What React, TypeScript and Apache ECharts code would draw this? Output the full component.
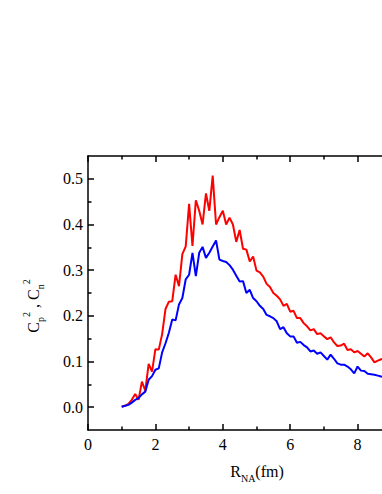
import React, { useEffect, useRef } from 'react';
import * as echarts from 'echarts';

const xValues = [
  1.0, 1.1, 1.2, 1.3, 1.4, 1.5, 1.6, 1.7, 1.8, 1.9,
  2.0, 2.1, 2.2, 2.3, 2.4, 2.5, 2.6, 2.7, 2.8, 2.9,
  3.0, 3.1, 3.2, 3.3, 3.4, 3.5, 3.6, 3.7, 3.8, 3.9,
  4.0, 4.1, 4.2, 4.3, 4.4, 4.5, 4.6, 4.7, 4.8, 4.9,
  5.0, 5.1, 5.2, 5.3, 5.4, 5.5, 5.6, 5.7, 5.8, 5.9,
  6.0, 6.1, 6.2, 6.3, 6.4, 6.5, 6.6, 6.7, 6.8, 6.9,
  7.0, 7.1, 7.2, 7.3, 7.4, 7.5, 7.6, 7.7, 7.8, 7.9,
  8.0, 8.1, 8.2, 8.3, 8.4, 8.5, 8.6, 8.7, 8.8,
];

const cpValues = [
  0.001, 0.003, 0.007, 0.016, 0.029, 0.016, 0.056, 0.036, 0.095, 0.078,
  0.127, 0.126, 0.160, 0.215, 0.231, 0.232, 0.290, 0.265, 0.335, 0.352,
  0.445, 0.353, 0.453, 0.430, 0.400, 0.468, 0.430, 0.507, 0.400, 0.416,
  0.430, 0.400, 0.415, 0.400, 0.362, 0.388, 0.347, 0.345, 0.319, 0.330,
  0.299, 0.295, 0.286, 0.270, 0.263, 0.250, 0.244, 0.236, 0.222, 0.226,
  0.209, 0.211, 0.195, 0.195, 0.184, 0.177, 0.168, 0.171, 0.160, 0.162,
  0.155, 0.149, 0.153, 0.142, 0.134, 0.135, 0.139, 0.125, 0.127, 0.120,
  0.123, 0.117, 0.111, 0.118, 0.109, 0.098, 0.102, 0.105, 0.107,
];

const cnValues = [
  0.001, 0.003, 0.005, 0.010, 0.016, 0.020, 0.028, 0.034, 0.060, 0.068,
  0.082, 0.085, 0.120, 0.140, 0.163, 0.192, 0.190, 0.225, 0.239, 0.280,
  0.290, 0.338, 0.287, 0.338, 0.351, 0.327, 0.338, 0.352, 0.365, 0.323,
  0.320, 0.318, 0.311, 0.301, 0.288, 0.275, 0.276, 0.250, 0.257, 0.239,
  0.232, 0.222, 0.215, 0.202, 0.199, 0.195, 0.188, 0.171, 0.175, 0.162,
  0.155, 0.155, 0.141, 0.143, 0.136, 0.131, 0.122, 0.124, 0.117, 0.120,
  0.112, 0.104, 0.115, 0.106, 0.096, 0.093, 0.093, 0.089, 0.083, 0.074,
  0.089, 0.080, 0.079, 0.073, 0.072, 0.071, 0.069, 0.067, 0.066,
];

const xTickLabels = ['0', '2', '4', '6', '8'];
const yTickValues = [0, 0.1, 0.2, 0.3, 0.4, 0.5];
const yMinorTickValues = [0.05, 0.15, 0.25, 0.35, 0.45];

const FONT = 'Liberation Serif';

export default function App() {
  const ref = useRef<HTMLDivElement>(null);

  useEffect(() => {
    if (!ref.current) return;
    const chart = echarts.init(ref.current, null, { renderer: 'svg' });
    const black = '#000';
    const lineStyle = { color: black, width: 1.5 };
    const xCommon = {
      type: 'value',
      min: 0,
      max: 10,
      interval: 2,
      splitLine: { show: false },
      axisLine: { show: true, onZero: false, lineStyle },
      axisTick: { show: true, inside: true, length: 6, lineStyle },
      minorTick: { show: true, splitNumber: 2, length: 3.5, lineStyle },
    };
    chart.setOption({
      animation: false,
      backgroundColor: '#fff',
      grid: {
        left: 88,
        top: 156,
        width: 337,
        height: 274,
        containLabel: false,
        outerBoundsMode: 'none',
      },
      xAxis: [
        {
          ...xCommon,
          position: 'bottom',
          axisLabel: {
            show: true,
            fontFamily: FONT,
            fontSize: 16,
            color: black,
            margin: 6,
            formatter: (v: number) => {
              const s = String(Math.round(v));
              return xTickLabels.indexOf(s) >= 0 ? s : '';
            },
          },
        },
        {
          ...xCommon,
          position: 'top',
          axisLabel: { show: false },
        },
      ],
      yAxis: [
        {
          type: 'value',
          position: 'left',
          min: -0.05,
          max: 0.55,
          splitLine: { show: false },
          axisLine: { show: true, onZero: false, lineStyle },
          axisTick: {
            show: true,
            inside: true,
            length: 6,
            lineStyle,
            customValues: yTickValues,
          },
          axisLabel: {
            show: true,
            fontFamily: FONT,
            fontSize: 16,
            color: black,
            margin: 5,
            customValues: yTickValues,
            formatter: (v: number) => v.toFixed(1),
          },
        },
        {
          type: 'value',
          position: 'left',
          min: -0.05,
          max: 0.55,
          splitLine: { show: false },
          axisLine: { show: false, onZero: false },
          axisTick: {
            show: true,
            inside: true,
            length: 3.5,
            lineStyle,
            customValues: yMinorTickValues,
          },
          axisLabel: { show: false },
        },
      ],
      series: [
        {
          type: 'line',
          name: 'Cp2',
          xAxisIndex: 0,
          yAxisIndex: 0,
          showSymbol: false,
          symbol: 'none',
          lineStyle: { color: '#ff0000', width: 2 },
          itemStyle: { color: '#ff0000' },
          data: xValues.map((x, i) => [x, cpValues[i]]),
        },
        {
          type: 'line',
          name: 'Cn2',
          xAxisIndex: 0,
          yAxisIndex: 0,
          showSymbol: false,
          symbol: 'none',
          lineStyle: { color: '#0000ff', width: 2 },
          itemStyle: { color: '#0000ff' },
          data: xValues.map((x, i) => [x, cnValues[i]]),
        },
      ],
      graphic: [
        {
          type: 'text',
          x: 257,
          y: 471,
          style: {
            text: '{m|R}{sub|NA}{m|(fm)}',
            align: 'center',
            verticalAlign: 'middle',
            fill: black,
            fontFamily: FONT,
            rich: {
              m: { fontFamily: FONT, fontSize: 16, lineHeight: 24, fill: black },
              sub: {
                fontFamily: FONT,
                fontSize: 10,
                lineHeight: 10,
                verticalAlign: 'bottom',
                fill: black,
              },
            },
          },
        },
        {
          type: 'text',
          x: 33,
          y: 306,
          rotation: Math.PI / 2,
          style: {
            text: '{m|C}{sub|p}{sup|2}{m| , C}{sub|n}{sup|2}',
            align: 'center',
            verticalAlign: 'middle',
            fill: black,
            fontFamily: FONT,
            rich: {
              m: { fontFamily: FONT, fontSize: 16, lineHeight: 24, fill: black },
              sub: {
                fontFamily: FONT,
                fontSize: 10,
                lineHeight: 10,
                verticalAlign: 'bottom',
                fill: black,
              },
              sup: {
                fontFamily: FONT,
                fontSize: 10,
                lineHeight: 10,
                verticalAlign: 'top',
                fill: black,
              },
            },
          },
        },
      ],
    });
    return () => {
      chart.dispose();
    };
  }, []);

  return (
    <div
      ref={ref}
      style={{
        position: 'fixed',
        left: 0,
        top: 0,
        width: 382,
        height: 494,
        overflow: 'hidden',
      }}
    />
  );
}
